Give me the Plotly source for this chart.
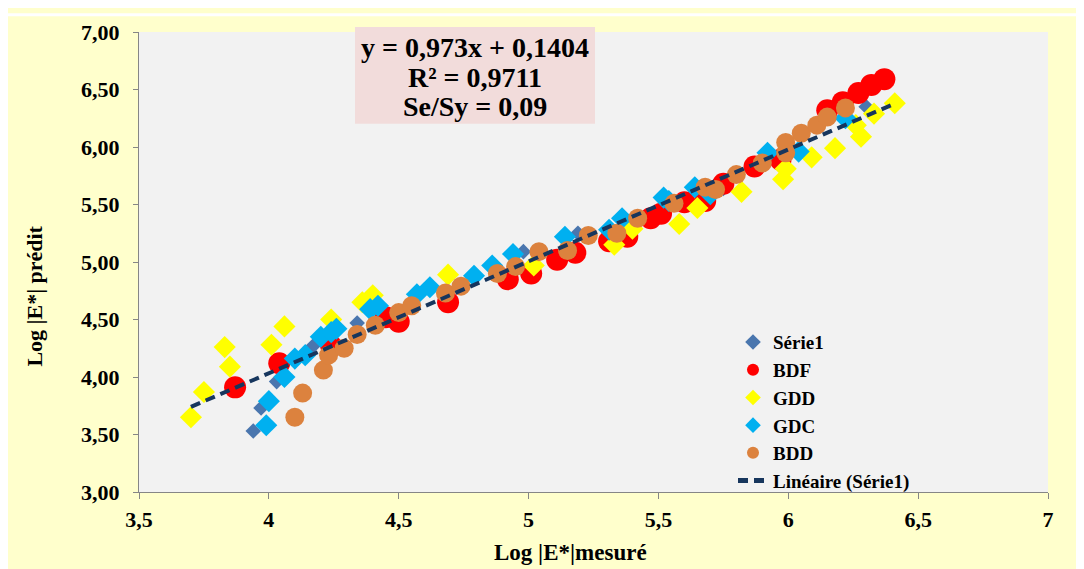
import plotly.graph_objects as go

# ---------------- data ----------------
serie1_x = [3.94, 3.97, 4.03, 4.17, 4.34, 4.98, 5.19, 5.75, 6.30]
serie1_y = [3.53, 3.73, 3.96, 4.27, 4.47, 5.09, 5.25, 5.64, 6.35]

bdf_x = [3.87, 4.04, 4.24, 4.45, 4.50, 4.69, 4.92, 5.01, 5.11, 5.18, 5.31, 5.38, 5.47,
         5.51, 5.60, 5.68, 5.75, 5.87, 5.97, 6.15, 6.21, 6.27, 6.32, 6.37]
bdf_y = [3.91, 4.12, 4.27, 4.52, 4.48, 4.65, 4.85, 4.90, 5.02, 5.08, 5.18, 5.22, 5.38,
         5.42, 5.52, 5.53, 5.68, 5.83, 5.89, 6.32, 6.39, 6.47, 6.54, 6.59]

gdd_x = [3.70, 3.75, 3.83, 3.85, 4.01, 4.06, 4.24, 4.36, 4.40, 4.69, 5.02, 5.33, 5.40,
         5.58, 5.65, 5.82, 5.98, 5.99, 6.09, 6.18, 6.26, 6.28, 6.33, 6.41]
gdd_y = [3.65, 3.87, 4.26, 4.09, 4.28, 4.44, 4.50, 4.65, 4.71, 4.89, 4.97, 5.15, 5.29,
         5.33, 5.47, 5.61, 5.72, 5.81, 5.91, 5.99, 6.19, 6.09, 6.29, 6.38]

gdc_x = [3.99, 4.00, 4.06, 4.10, 4.14, 4.20, 4.24, 4.26, 4.39, 4.42, 4.57, 4.62, 4.79,
         4.86, 4.94, 5.14, 5.31, 5.36, 5.52, 5.54, 5.64, 5.70, 5.92, 6.04, 6.22]
gdc_y = [3.58, 3.79, 4.00, 4.16, 4.19, 4.35, 4.39, 4.42, 4.59, 4.62, 4.72, 4.78, 4.88,
         4.97, 5.07, 5.22, 5.28, 5.38, 5.56, 5.53, 5.65, 5.59, 5.95, 5.96, 6.25]

bdd_x = [4.10, 4.13, 4.21, 4.23, 4.29, 4.34, 4.41, 4.50, 4.55, 4.68, 4.74, 4.88, 4.95,
         5.04, 5.15, 5.23, 5.34, 5.42, 5.56, 5.68, 5.72, 5.80, 5.90, 5.99, 5.99, 6.05,
         6.11, 6.15, 6.22]
bdd_y = [3.65, 3.86, 4.06, 4.19, 4.25, 4.37, 4.45, 4.56, 4.62, 4.73, 4.79, 4.90, 4.96,
         5.09, 5.10, 5.23, 5.25, 5.38, 5.51, 5.65, 5.63, 5.76, 5.86, 5.95, 6.04, 6.12,
         6.19, 6.26, 6.34]

trend_slope = 0.973
trend_intercept = 0.1404
trend_x = [3.70, 6.41]
trend_y = [trend_slope * v + trend_intercept for v in trend_x]

x_tickvals = [3.5, 4, 4.5, 5, 5.5, 6, 6.5, 7]
x_ticktext = ["3,5", "4", "4,5", "5", "5,5", "6", "6,5", "7"]
y_tickvals = [3.0, 3.5, 4.0, 4.5, 5.0, 5.5, 6.0, 6.5, 7.0]
y_ticktext = ["3,00", "3,50", "4,00", "4,50", "5,00", "5,50", "6,00", "6,50", "7,00"]

eq_lines = ["y = 0,973x + 0,1404", "R² = 0,9711", "Se/Sy = 0,09"]

# ---------------- figure ----------------
FONT = "Liberation Serif"
fig = go.Figure()

fig.add_trace(go.Scatter(x=serie1_x, y=serie1_y, mode="markers", name="Série1",
                         marker=dict(symbol="diamond", size=12, color="#4A76AE")))
fig.add_trace(go.Scatter(x=bdf_x, y=bdf_y, mode="markers", name="BDF",
                         marker=dict(symbol="circle", size=22, color="#FF0000")))
fig.add_trace(go.Scatter(x=gdd_x, y=gdd_y, mode="markers", name="GDD",
                         marker=dict(symbol="diamond", size=17, color="#FFFF00")))
fig.add_trace(go.Scatter(x=gdc_x, y=gdc_y, mode="markers", name="GDC",
                         marker=dict(symbol="diamond", size=17, color="#00B0F0")))
fig.add_trace(go.Scatter(x=bdd_x, y=bdd_y, mode="markers", name="BDD",
                         marker=dict(symbol="circle", size=19, color="#DC823E")))
fig.add_trace(go.Scatter(x=trend_x, y=trend_y, mode="lines", name="Linéaire (Série1)",
                         line=dict(color="#17365D", width=4, dash="10px,6px")))

# the page body adds an 8px offset; layout below is expressed in screen pixels
OX, OY = 8, 8
W, H = 1084 - OX, 573 - OY
PL, PR, PT, PB = 139, 1048, 26, 492          # plot area in screen pixels
L, R, T, B = PL - OX, W - (PR - OX), PT - OY, H - (PB - OY)
pw, ph = PR - PL, PB - PT

def px_x(p):
    return (p - PL) / pw

def px_y(p):
    return (PB - p) / ph

shapes = [
    # thin white strip at top of the picture
    dict(type="rect", xref="paper", yref="paper", x0=px_x(0), x1=px_x(1090),
         y0=px_y(10), y1=px_y(7), fillcolor="white", line_width=0, layer="below"),
    # equation box
    dict(type="rect", xref="paper", yref="paper", x0=px_x(355), x1=px_x(595),
         y0=px_y(119), y1=px_y(21), fillcolor="#F2DCDB", line_width=0, layer="above"),
]

BOLD = dict(family=FONT, color="black", weight="bold")

annotations = []
for line, yc in zip(eq_lines, [42, 72, 101]):
    annotations.append(dict(text=line, xref="paper", yref="paper",
                            x=px_x(475), y=px_y(yc), xanchor="center", yanchor="middle",
                            showarrow=False, font=dict(BOLD, size=28)))
annotations.append(dict(text="Log |E*|mesuré", xref="paper", yref="paper",
                        x=px_x(570), y=px_y(553), xanchor="center", yanchor="middle",
                        showarrow=False, font=dict(BOLD, size=23)))
annotations.append(dict(text="Log |E*| prédit", xref="paper", yref="paper",
                        x=px_x(35), y=px_y(294), xanchor="center", yanchor="middle",
                        textangle=-90, showarrow=False, font=dict(BOLD, size=22)))

fig.update_layout(
    width=W, height=H,
    margin=dict(l=L, r=R, t=T, b=B),
    paper_bgcolor="#FFFFCC",
    plot_bgcolor="#F2F2F2",
    font=dict(family=FONT, size=22, color="black"),
    showlegend=True,
    legend=dict(x=px_x(733), y=px_y(321), xanchor="left", yanchor="top",
                bgcolor="rgba(0,0,0,0)", font=dict(BOLD, size=19),
                itemsizing="constant", tracegroupgap=0),
    shapes=shapes,
    annotations=annotations,
)

fig.update_xaxes(range=[3.5, 7], tickvals=x_tickvals, ticktext=x_ticktext,
                 showgrid=False, zeroline=False, showline=True, linecolor="#868686",
                 linewidth=1, ticks="outside", ticklen=6, tickcolor="#868686",
                 tickfont=dict(BOLD, size=22), ticklabelstandoff=2)
fig.update_yaxes(range=[3, 7], tickvals=y_tickvals, ticktext=y_ticktext,
                 showgrid=False, zeroline=False, showline=True, linecolor="#868686",
                 linewidth=1, ticks="outside", ticklen=5, tickcolor="#868686",
                 tickfont=dict(BOLD, size=22), ticklabelstandoff=9)

fig.write_html("out.html")
